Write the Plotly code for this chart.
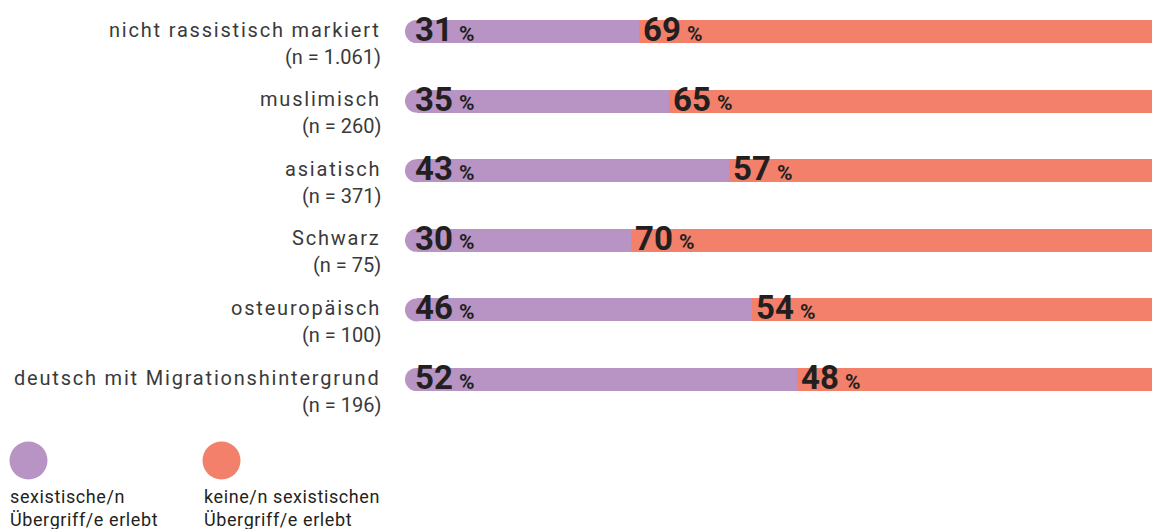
import plotly.graph_objects as go

# ---- data ----
categories = ["nicht rassistisch markiert", "muslimisch", "asiatisch", "Schwarz",
              "osteuropäisch", "deutsch mit Migrationshintergrund"]
sample_sizes = ["(n = 1.061)", "(n = 260)", "(n = 371)", "(n = 75)", "(n = 100)", "(n = 196)"]
experienced = [31, 35, 43, 30, 46, 52]
not_experienced = [69, 65, 57, 70, 54, 48]
legend_labels = ["sexistische/n<br>Übergriff/e erlebt", "keine/n sexistischen<br>Übergriff/e erlebt"]

# ---- style / layout ----
PURPLE = "#B794C4"
ORANGE = "#F3806A"
TEXT = "#231F20"
LABEL = "#3A3A3A"
W, H = 1152, 529
L = 405
PX_PER_UNIT = 7.54
x_max = (W - L) / PX_PER_UNIT
row0, step = 31.5, 69.6
y_top = -row0 / step
y_bot = (H - row0) / step
BAR_PX = 23
R = (BAR_PX / 2) / PX_PER_UNIT
NUM_SIZE, PCT_SIZE = 33, 21
BASE_DROP = 9.5  # baseline of the value labels below the bar centre (px)

rows = list(range(len(categories)))

fig = go.Figure()
fig.add_trace(go.Bar(y=rows, x=[v - R for v in experienced], base=R, orientation="h",
                     marker=dict(color=PURPLE, line_width=0), width=BAR_PX / step,
                     hoverinfo="skip", showlegend=False))
fig.add_trace(go.Bar(y=rows, x=not_experienced, base=experienced, orientation="h",
                     marker=dict(color=ORANGE, line_width=0), width=BAR_PX / step,
                     hoverinfo="skip", showlegend=False))
fig.add_trace(go.Scatter(x=[R] * len(rows), y=rows, mode="markers",
                         marker=dict(size=BAR_PX, color=PURPLE, line_width=0),
                         hoverinfo="skip", showlegend=False, cliponaxis=False))

def px_x(px):
    return (px - L) / (W - L)

def px_y(py):
    return 1 - py / H

def value_label(x, i, v, shift):
    out = [dict(x=x, y=i, xref="x", yref="y", text=f"<b>{v}</b>", showarrow=False,
                xanchor="left", yanchor="bottom", xshift=shift,
                yshift=-(BASE_DROP + 0.271 * NUM_SIZE) - 1,
                font=dict(family="Roboto", size=NUM_SIZE, color=TEXT)),
           dict(x=x, y=i, xref="x", yref="y", text="<b>%</b>", showarrow=False,
                xanchor="left", yanchor="bottom", xshift=shift + 44,
                yshift=-(BASE_DROP + 0.271 * PCT_SIZE) - 1,
                font=dict(family="Roboto", size=PCT_SIZE, color=TEXT))]
    return out

ann = []
for i, (c, n, a, b) in enumerate(zip(categories, sample_sizes, experienced, not_experienced)):
    ann += value_label(0, i, a, 8)
    ann += value_label(a, i, b, 2)
    ann.append(dict(x=px_x(383), y=i, xref="paper", yref="y",
                    text=f"<span style='letter-spacing:1.8px'>{c}</span>", showarrow=False,
                    xanchor="right", yanchor="middle", yshift=2,
                    font=dict(family="Roboto", size=20, color=LABEL)))
    ann.append(dict(x=px_x(383), y=i, xref="paper", yref="y", text=n, showarrow=False,
                    xanchor="right", yanchor="middle", yshift=-25,
                    font=dict(family="Roboto", size=20, color=LABEL)))

shapes = []
for cx, col, lab in zip([28.5, 221.5], [PURPLE, ORANGE], legend_labels):
    shapes.append(dict(type="circle", xref="paper", yref="paper",
                       x0=px_x(cx - 19), x1=px_x(cx + 19), y0=px_y(460.5 + 19), y1=px_y(460.5 - 19),
                       fillcolor=col, line_width=0, layer="above"))
    styled = "<br>".join(f"<span style='letter-spacing:0.6px'>{part}</span>"
                         for part in lab.split("<br>"))
    ann.append(dict(x=px_x(cx - 20), y=px_y(484), xref="paper", yref="paper", text=styled,
                    showarrow=False, xanchor="left", yanchor="top", align="left",
                    font=dict(family="Roboto", size=18, color=TEXT)))

fig.update_layout(
    width=W, height=H, margin=dict(l=L, r=0, t=0, b=0),
    paper_bgcolor="white", plot_bgcolor="white",
    barmode="overlay", bargap=0,
    xaxis=dict(range=[0, x_max], visible=False, fixedrange=True),
    yaxis=dict(range=[y_bot, y_top], visible=False, fixedrange=True),
    annotations=ann, shapes=shapes, showlegend=False,
)

fig.write_html("out.html", config={"displayModeBar": False},
               post_script="document.body.style.margin='0';document.body.style.overflow='hidden';")
